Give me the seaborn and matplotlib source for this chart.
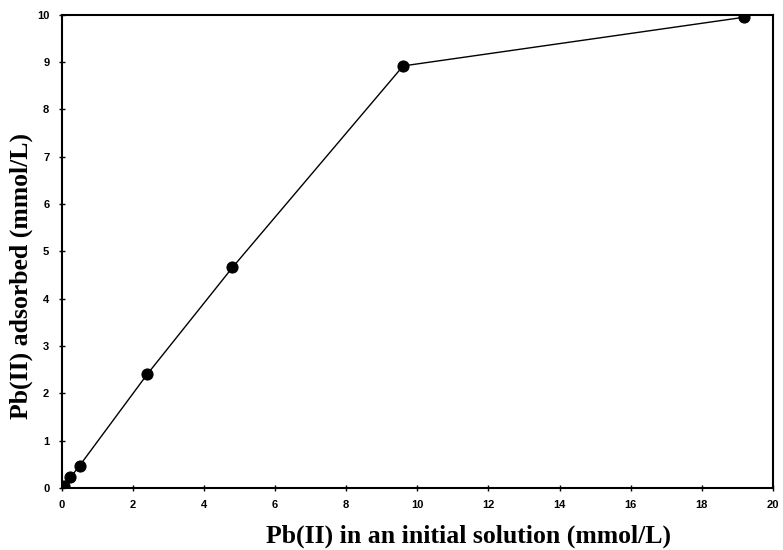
import matplotlib
matplotlib.use("Agg")
import matplotlib.pyplot as plt
import seaborn as sns
import pandas as pd

initial = [0.06, 0.24, 0.5, 2.4, 4.8, 9.6, 19.2]
adsorbed = [0.03, 0.22, 0.47, 2.4, 4.66, 8.92, 9.95]
x_ticks = [0, 2, 4, 6, 8, 10, 12, 14, 16, 18, 20]
y_ticks = [0, 1, 2, 3, 4, 5, 6, 7, 8, 9, 10]

sns.set_theme(style="ticks")
plt.rcParams['font.family'] = ['Liberation Sans', 'DejaVu Sans']
plt.rcParams['text.color'] = 'black'
plt.rcParams['axes.labelcolor'] = 'black'

df = pd.DataFrame({"x": initial, "y": adsorbed})

fig = plt.figure(figsize=(7.83, 5.5), dpi=100)
ax = fig.add_axes([0.079, 0.113, 0.908, 0.86])
sns.lineplot(data=df, x="x", y="y", ax=ax, color="black", linewidth=1.0,
             marker="o", markersize=8, markerfacecolor="black",
             markeredgecolor="black", sort=False)

ax.set_xlim(0, 20)
ax.set_ylim(0, 10)
ax.set_xticks(x_ticks)
ax.set_yticks(y_ticks)
ax.set_xticklabels([str(t) for t in x_ticks], fontsize=8, fontweight="heavy")
ax.set_yticklabels([str(t) for t in y_ticks], fontsize=8, fontweight="heavy")
ax.tick_params(direction="inout", length=4, width=1, colors="black",
               labelcolor="black", pad=7)
for s in ax.spines.values():
    s.set_linewidth(1.5)
    s.set_color("black")
    s.set_visible(True)

ax.set_xlabel("Pb(II) in an initial solution (mmol/L)", fontsize=18.5,
              fontweight="bold", color="black",
              family=["Liberation Serif", "DejaVu Serif"])
ax.set_ylabel("Pb(II) adsorbed (mmol/L)", fontsize=18.5,
              fontweight="bold", color="black",
              family=["Liberation Serif", "DejaVu Serif"])
ax.xaxis.set_label_coords(0.572, -0.078)
ax.yaxis.set_label_coords(-0.041, 0.448)

fig.savefig("out.png", dpi=100)
